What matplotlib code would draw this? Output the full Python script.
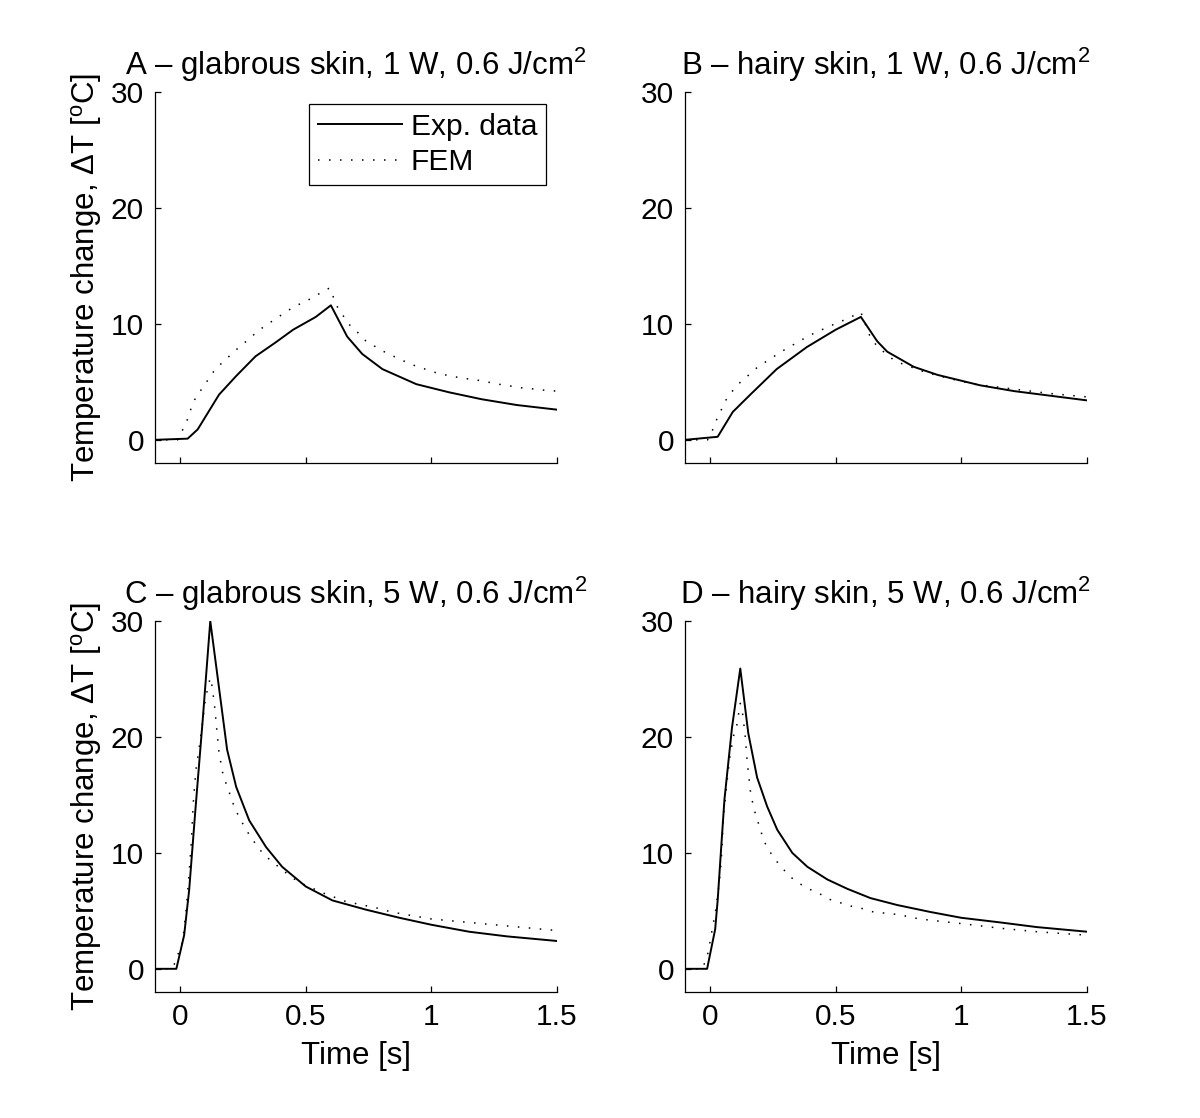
import numpy as np
import matplotlib
matplotlib.use("Agg")
import matplotlib.pyplot as plt

plt.rcParams['font.family'] = ['Liberation Sans', 'DejaVu Sans']
plt.rcParams['mathtext.fontset'] = 'custom'
plt.rcParams['mathtext.rm'] = 'Liberation Sans'
plt.rcParams['mathtext.it'] = 'Liberation Sans:italic'
plt.rcParams['font.size'] = 21.5

# A - glabrous skin, 1 W
a_exp_t = [-0.1, 0.03, 0.07, 0.155, 0.223, 0.30, 0.38, 0.45, 0.54, 0.60, 0.665, 0.725, 0.805, 0.94, 1.07, 1.20, 1.34, 1.5]
a_exp_T = [0, 0.1, 0.9, 3.9, 5.5, 7.2, 8.4, 9.5, 10.6, 11.6, 8.9, 7.4, 6.1, 4.8, 4.1, 3.5, 3.0, 2.6]
a_fem_t = [-0.1, -0.01, 0.01, 0.03, 0.045, 0.063, 0.09, 0.115, 0.14, 0.175, 0.21, 0.24, 0.275, 0.31, 0.35,
           0.385, 0.425, 0.465, 0.505, 0.545, 0.595, 0.625, 0.67, 0.705, 0.74, 0.78, 0.82, 0.86, 0.90, 0.945,
           0.99, 1.03, 1.08, 1.125, 1.17, 1.22, 1.265, 1.30, 1.35, 1.40, 1.44, 1.5]
a_fem_T = [0, 0, 0.86, 1.8, 2.8, 3.7, 4.5, 5.3, 6.1, 6.8, 7.5, 8.1, 8.7, 9.4, 10.0,
           10.5, 11.1, 11.6, 12.0, 12.5, 13.1, 11.5, 10.0, 9.3, 8.5, 8.0, 7.5, 7.1, 6.7, 6.3,
           6.0, 5.7, 5.5, 5.3, 5.2, 5.0, 4.8, 4.7, 4.5, 4.4, 4.3, 4.2]

# B - hairy skin, 1 W
b_exp_t = [-0.1, 0.03, 0.09, 0.16, 0.265, 0.385, 0.50, 0.60, 0.665, 0.705, 0.81, 0.905, 1.075, 1.21, 1.355, 1.5]
b_exp_T = [0, 0.26, 2.4, 3.9, 6.1, 8.0, 9.5, 10.6, 8.5, 7.6, 6.3, 5.6, 4.7, 4.2, 3.8, 3.4]
b_fem_t = [-0.1, -0.01, 0.01, 0.027, 0.047, 0.067, 0.096, 0.126, 0.16, 0.195, 0.235, 0.275, 0.315, 0.355,
           0.395, 0.435, 0.475, 0.52, 0.56, 0.60, 0.635, 0.66, 0.69, 0.73, 0.77, 0.81, 0.86, 0.95, 1.05,
           1.2, 1.35, 1.5]
b_fem_T = [0, 0, 0.86, 1.8, 2.7, 3.6, 4.4, 5.1, 5.7, 6.4, 6.9, 7.5, 8.0, 8.5,
           9.0, 9.4, 9.8, 10.2, 10.6, 11.0, 9.0, 8.2, 7.6, 6.9, 6.5, 6.2, 5.8, 5.3, 4.8,
           4.4, 4.0, 3.7]

# C - glabrous skin, 5 W
c_exp_t = [-0.1, -0.015, 0.016, 0.036, 0.06, 0.09, 0.12, 0.187, 0.223, 0.275, 0.342, 0.406, 0.50, 0.606,
           0.74, 0.873, 1.0, 1.15, 1.3, 1.5]
c_exp_T = [0, 0, 2.9, 6.8, 13.5, 21.5, 30.0, 18.9, 15.7, 12.8, 10.5, 8.8, 7.1, 5.9,
           5.1, 4.4, 3.8, 3.2, 2.8, 2.4]
c_fem_t = [-0.1, -0.03, -0.006, 0.01, 0.025, 0.036, 0.045, 0.052, 0.063, 0.076, 0.089, 0.10, 0.113, 0.12,
           0.128, 0.138, 0.146, 0.155, 0.172, 0.188, 0.218, 0.262, 0.312, 0.341, 0.414, 0.45, 0.49, 0.574,
           0.66, 0.705, 0.793, 0.84, 1.0, 1.15, 1.3, 1.5]
c_fem_T = [0, 0, 1.4, 2.3, 5.3, 8.3, 11.1, 14.2, 17.2, 19.1, 21.2, 23.2, 24.5, 25.1,
           24.3, 22.5, 20.6, 18.6, 16.6, 15.7, 13.8, 12.0, 10.4, 9.7, 8.4, 7.8, 7.3, 6.5,
           5.8, 5.6, 5.2, 4.9, 4.3, 4.0, 3.7, 3.3]

# D - hairy skin, 5 W
d_exp_t = [-0.1, -0.012, 0.02, 0.03, 0.046, 0.057, 0.087, 0.12, 0.152, 0.187, 0.227, 0.267, 0.327, 0.387,
           0.467, 0.546, 0.638, 0.745, 0.877, 1.0, 1.155, 1.3, 1.5]
d_exp_T = [0, 0, 3.4, 5.9, 11.1, 14.6, 20.8, 25.9, 20.3, 16.5, 14.0, 12.0, 10.0, 8.8,
           7.7, 6.9, 6.1, 5.5, 4.9, 4.4, 4.0, 3.6, 3.2]
d_fem_t = [-0.1, -0.03, -0.008, 0.024, 0.036, 0.044, 0.053, 0.067, 0.078, 0.092, 0.106, 0.12, 0.13, 0.14,
           0.147, 0.162, 0.183, 0.2, 0.21, 0.232, 0.256, 0.287, 0.315, 0.352, 0.392, 0.434, 0.474, 0.518,
           0.562, 0.605, 0.65, 0.697, 0.74, 0.79, 0.833, 1.0, 1.155, 1.3, 1.5]
d_fem_T = [0, 0, 1.4, 5.3, 7.4, 9.2, 13.1, 16.1, 18.2, 20.0, 21.0, 22.9, 21.9, 20.0,
           18.0, 15.0, 13.1, 12.1, 11.2, 10.3, 9.5, 8.7, 8.0, 7.4, 6.9, 6.5, 6.0, 5.7,
           5.4, 5.2, 4.9, 4.8, 4.7, 4.5, 4.3, 3.9, 3.5, 3.2, 2.9]

titles = ["A \u2013 glabrous skin, 1 W, 0.6 J/cm$^2$",
          "B \u2013 hairy skin, 1 W, 0.6 J/cm$^2$",
          "C \u2013 glabrous skin, 5 W, 0.6 J/cm$^2$",
          "D \u2013 hairy skin, 5 W, 0.6 J/cm$^2$"]
panels = [(a_exp_t, a_exp_T, a_fem_t, a_fem_T),
          (b_exp_t, b_exp_T, b_fem_t, b_fem_T),
          (c_exp_t, c_exp_T, c_fem_t, c_fem_T),
          (d_exp_t, d_exp_T, d_fem_t, d_fem_T)]
xticks = [0, 0.5, 1, 1.5]
xticklabels = ["0", "0.5", "1", "1.5"]
yticks = [0, 10, 20, 30]
label_size = 22.5

W, H = 1200, 1118
fig = plt.figure(figsize=(W / 100, H / 100), dpi=100)
lefts = [155, 685]
tops = [92, 621]
aw, ah = 402, 371

for k in range(4):
    row, col = divmod(k, 2)
    l = lefts[col]
    t = tops[row]
    ax = fig.add_axes([l / W, 1 - (t + ah) / H, aw / W, ah / H])
    et, eT, ft, fT = panels[k]
    ax.plot(et, eT, color='black', lw=1.4, label='Exp. data')
    ax.plot(ft, fT, color='black', lw=1.1, linestyle=(0, (1, 6.2)), label='FEM')
    ax.set_xlim(-0.1, 1.5)
    ax.set_ylim(-2, 30)
    ax.set_xticks(xticks)
    ax.set_yticks(yticks)
    ax.spines['top'].set_visible(False)
    ax.spines['right'].set_visible(False)
    for s in ['left', 'bottom']:
        ax.spines[s].set_linewidth(0.9)
    ax.tick_params(direction='in', length=4, width=0.9, pad=8)
    if row == 1:
        ax.set_xticklabels(xticklabels)
        ax.set_xlabel("Time [s]", labelpad=7, fontsize=label_size)
    else:
        ax.set_xticklabels([])
    if col == 0:
        ax.set_ylabel("Temperature change, \u0394T [$^{\\mathrm{o}}$C]", labelpad=5, fontsize=label_size)
    ax.set_title(titles[k], pad=12, fontsize=label_size)
    if k == 0:
        leg = ax.legend(loc='upper right', bbox_to_anchor=(0.9726, 0.9677), borderaxespad=0,
                        fancybox=False, framealpha=1, edgecolor='black',
                        handlelength=2.8, handletextpad=0.3, borderpad=0.3, labelspacing=0.25)
        leg.get_frame().set_linewidth(0.9)

fig.savefig("out.png", dpi=100)
